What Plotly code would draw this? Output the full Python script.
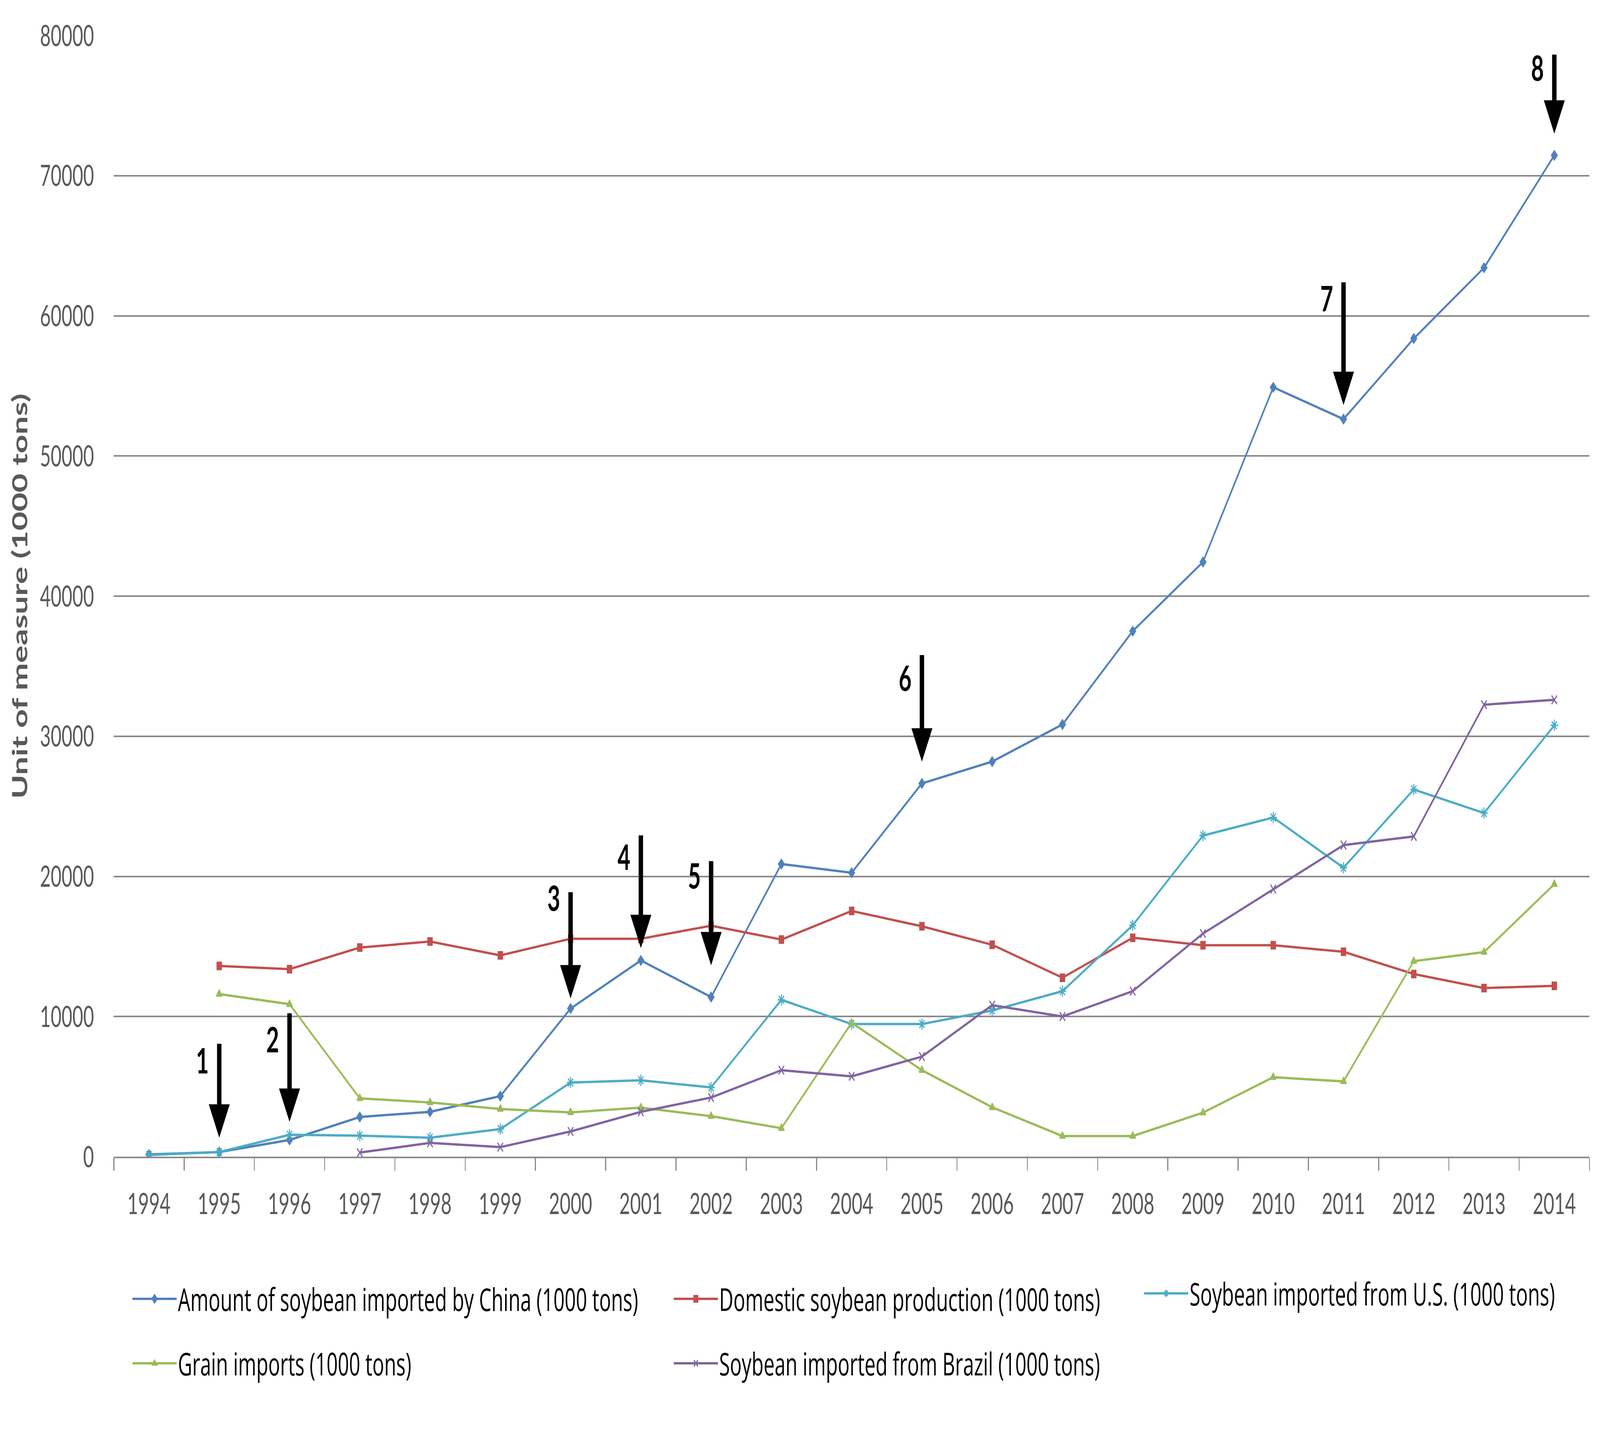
import plotly.graph_objects as go

years = list(range(1994, 2015))

china_imports = [160, 330, 1190, 2830, 3200, 4320, 10570, 14000, 11390, 20880, 20260,
                 26630, 28190, 30840, 37500, 42430, 54900, 52630, 58380, 63430, 71450]
domestic_prod = [None, 13610, 13380, 14920, 15350, 14360, 15550, 15550, 16480, 15490, 17530,
                 16440, 15120, 12770, 15620, 15090, 15090, 14620, 13030, 12030, 12190]
us_imports = [120, 330, 1560, 1500, 1350, 1970, 5290, 5450, 4940, 11190, 9460,
              9460, 10430, 11810, 16510, 22910, 24200, 20620, 26200, 24520, 30780]
grain_imports = [None, 11600, 10880, 4160, 3870, 3400, 3160, 3500, 2890, 2030, 9550,
                 6170, 3520, 1470, 1470, 3140, 5670, 5370, 13950, 14600, 19440]
brazil_imports = [None, None, None, 290, 980, 680, 1800, 3200, 4220, 6170, 5730,
                  7140, 10810, 10000, 11810, 15920, 19090, 22230, 22850, 32250, 32600]

series_names = [
    "Amount of soybean imported by China (1000 tons)",
    "Domestic soybean production (1000 tons)",
    "Soybean imported from U.S. (1000 tons)",
    "Grain imports (1000 tons)",
    "Soybean imported from Brazil (1000 tons)",
]

# arrow annotations: label, year, tail value, head value, label value
arrow_labels = ["1", "2", "3", "4", "5", "6", "7", "8"]
arrow_years = [1995, 1996, 2000, 2001, 2002, 2005, 2011, 2014]
arrow_tails = [8100, 10270, 18910, 22970, 21130, 35830, 62430, 78680]
arrow_heads = [1350, 2480, 11290, 14880, 13650, 28190, 53630, 73000]
label_values = [6900, 8420, 18500, 21430, 20100, 34210, 61300, 77750]

colors = ["#4F81BD", "#C0504D", "#4BACC6", "#9BBB59", "#8064A2"]
symbols = ["diamond", "square", "asterisk-open", "triangle-up", "x-thin-open"]
msizes = [18, 18, 24, 20, 22]
values = [china_imports, domestic_prod, us_imports, grain_imports, brazil_imports]
legend_ids = ["legend", "legend2", "legend3", "legend4", "legend5"]

W, H = 6521, 3671
ML, MR, MT, MB = 464, 43, 91, 710

fig = go.Figure()
for name, vals, c, s, ms, lg in zip(series_names, values, colors, symbols, msizes, legend_ids):
    fig.add_trace(go.Scatter(
        x=years, y=vals, name=name, mode="lines+markers",
        line=dict(color=c, width=6),
        marker=dict(symbol=s, size=ms, color=c, line=dict(color=c, width=4)),
        legend=lg, connectgaps=False,
    ))

for lab, yr, tail, head, lv in zip(arrow_labels, arrow_years, arrow_tails, arrow_heads, label_values):
    fig.add_annotation(x=yr, y=head, ax=yr, ay=tail, xref="x", yref="y", axref="x", ayref="y",
                       text="", showarrow=True, arrowhead=2, arrowwidth=18, arrowsize=0.95,
                       arrowcolor="black", standoff=0, startstandoff=0)
    fig.add_annotation(x=yr - 0.24, y=lv, xref="x", yref="y", text=f"<b>{lab}</b>",
                       showarrow=False, font=dict(family="Lato", size=90, color="black"))

tick_font = dict(family="Lato", size=76, color="#595959")
legend_font = dict(family="Open Sans", size=80, color="black")

plot_w = W - ML - MR
plot_h = H - MT - MB
# legend entry anchor points in pixels (line-sample start x, row centre y)
legend_px = [(535, 3325), (2741, 3325), (4658, 3311), (535, 3490), (2741, 3490)]
legend_layouts = {}
for lg, (px, py) in zip(legend_ids, legend_px):
    legend_layouts[lg] = dict(x=(px - ML) / plot_w, y=(H - MB - py) / plot_h,
                              xanchor="left", yanchor="middle", orientation="h",
                              font=legend_font, bgcolor="rgba(0,0,0,0)", itemwidth=180,
                              borderwidth=0)

fig.update_layout(
    width=W, height=H,
    margin=dict(l=ML, r=MR, t=MT, b=MB),
    paper_bgcolor="white", plot_bgcolor="white",
    showlegend=True,
    **legend_layouts,
)

fig.update_xaxes(
    range=[1993.5, 2014.5], tickmode="array", tickvals=years, ticktext=[str(y) for y in years],
    ticks="", tickfont=tick_font, showgrid=False, zeroline=False,
    showline=True, linecolor="#888888", linewidth=4, ticklabelstandoff=52,
    minor=dict(tickmode="linear", tick0=1993.5, dtick=1, ticks="outside", ticklen=32,
               tickwidth=4, tickcolor="#888888", showgrid=False),
)
fig.update_yaxes(
    range=[0, 80000], dtick=10000, tickformat="d", tickfont=tick_font,
    showgrid=True, gridcolor="#888888", gridwidth=4, zeroline=False, ticks="",
    ticklabelstandoff=80,
    title=dict(text="<b>Unit of measure (1000 tons)</b>",
               font=dict(family="Lato", size=84, color="#595959"), standoff=22),
)

# Map the 6521x3671 figure onto the actual browser viewport so the whole
# chart frame is photographed (identity when the viewport is 6521x3671).
fit_js = """
(function () {
  var W = %d, H = %d;
  var gd = document.getElementById('{plot_id}');
  var de = document.documentElement, body = document.body;
  de.style.margin = '0'; de.style.padding = '0'; de.style.overflow = 'hidden';
  body.style.margin = '0'; body.style.padding = '0'; body.style.overflow = 'hidden';
  var box = document.createElement('div');
  box.style.overflow = 'hidden';
  box.style.position = 'relative';
  gd.parentNode.insertBefore(box, gd);
  box.appendChild(gd);
  function fitToWindow() {
    var sx = window.innerWidth / W, sy = window.innerHeight / H;
    box.style.width = window.innerWidth + 'px';
    box.style.height = window.innerHeight + 'px';
    gd.style.transformOrigin = '0 0';
    if (Math.abs(sx - 1) < 0.001 && Math.abs(sy - 1) < 0.001) {
      gd.style.transform = '';
    } else {
      gd.style.transform = 'scale(' + sx + ',' + sy + ')';
    }
  }
  fitToWindow();
  window.addEventListener('resize', fitToWindow);
})();
""" % (W, H)

fig.write_html("out.html", post_script=fit_js, config={"displayModeBar": False})
